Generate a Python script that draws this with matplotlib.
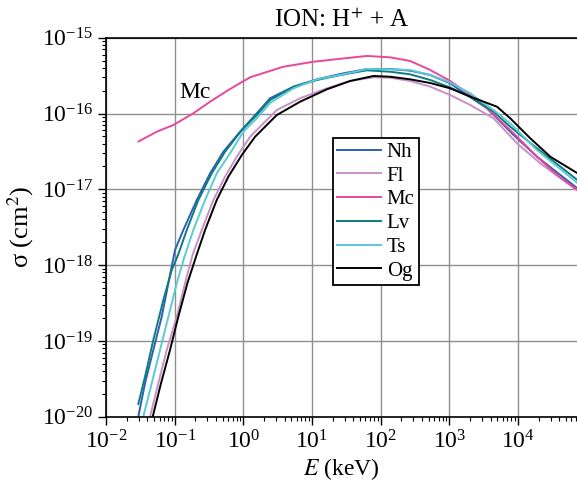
import numpy as np
import matplotlib
matplotlib.use('Agg')
import matplotlib.pyplot as plt
from matplotlib.ticker import LogLocator, NullFormatter

plt.rcParams['font.family'] = ['Liberation Serif', 'DejaVu Serif']
plt.rcParams['mathtext.fontset'] = 'stix'

# values as log10(E / keV) and log10(sigma / cm^2)
lgE_nh = [-1.531, -1.433, -1.312, -1.190, -1.093, -0.996, -0.875, -0.679, -0.485, -0.292, -0.048,
          0.195, 0.389, 0.729, 1.070, 1.458, 1.799, 2.138, 2.430, 2.722, 3.013, 3.257, 3.548,
          3.936, 4.277, 4.87]
lgS_nh = [-20.0, -19.559, -19.120, -18.681, -18.240, -17.801, -17.537, -17.141, -16.789, -16.504,
          -16.240, -15.997, -15.799, -15.646, -15.549, -15.470, -15.413, -15.413, -15.435, -15.492,
          -15.602, -15.756, -15.931, -16.284, -16.570, -16.99]

lgE_fl = [-1.360, -1.239, -1.117, -0.971, -0.850, -0.741, -0.606, -0.437, -0.267, -0.096, 0.098,
          0.195, 0.389, 0.487, 0.827, 1.216, 1.555, 1.895, 2.138, 2.430, 2.722, 3.013, 3.305,
          3.644, 3.985, 4.325, 4.87]
lgS_fl = [-20.0, -19.559, -19.120, -18.681, -18.240, -17.867, -17.537, -17.141, -16.834, -16.570,
          -16.306, -16.218, -16.042, -15.954, -15.799, -15.668, -15.571, -15.522, -15.528, -15.571,
          -15.646, -15.756, -15.888, -16.063, -16.393, -16.657, -17.02]

lgE_mc = [-1.528, -1.262, -1.020, -0.729, -0.485, -0.219, 0.098, 0.583, 1.020, 1.555, 1.799,
          2.138, 2.430, 2.722, 3.013, 3.305, 3.548, 3.936, 4.277, 4.569, 4.87]
lgS_mc = [-16.369, -16.240, -16.152, -15.997, -15.844, -15.690, -15.522, -15.383, -15.317, -15.264,
          -15.241, -15.259, -15.307, -15.426, -15.571, -15.756, -15.931, -16.261, -16.570, -16.811,
          -17.01]

lgE_lv = [-1.531, -1.433, -1.312, -1.166, -1.044, -0.952, -0.825, -0.656, -0.461, -0.267, -0.023,
          0.195, 0.389, 0.729, 1.070, 1.458, 1.799, 2.138, 2.430, 2.722, 3.013, 3.305, 3.644,
          3.887, 4.277, 4.87]
lgS_lv = [-19.833, -19.472, -18.988, -18.460, -18.065, -17.867, -17.537, -17.141, -16.789, -16.504,
          -16.218, -16.020, -15.822, -15.650, -15.558, -15.485, -15.430, -15.449, -15.483, -15.558,
          -15.657, -15.778, -15.976, -16.174, -16.459, -16.88]

lgE_ts = [-1.458, -1.335, -1.214, -1.093, -0.971, -0.864, -0.729, -0.558, -0.388, -0.194, 0.0,
          0.195, 0.389, 0.729, 1.070, 1.458, 1.799, 2.138, 2.430, 2.722, 3.013, 3.305, 3.644,
          3.887, 4.277, 4.87]
lgS_ts = [-20.0, -19.559, -19.120, -18.681, -18.240, -17.906, -17.537, -17.141, -16.789, -16.525,
          -16.240, -16.063, -15.861, -15.668, -15.549, -15.483, -15.413, -15.417, -15.426, -15.492,
          -15.591, -15.734, -15.954, -16.129, -16.482, -16.92]

lgE_og = [-1.321, -1.200, -1.069, -0.948, -0.816, -0.682, -0.558, -0.388, -0.219, -0.023, 0.171,
          0.389, 0.487, 0.827, 1.216, 1.555, 1.895, 2.138, 2.430, 2.722, 3.013, 3.305, 3.694,
          3.887, 4.179, 4.471, 4.87]
lgS_og = [-20.0, -19.559, -19.120, -18.681, -18.240, -17.867, -17.537, -17.141, -16.834, -16.548,
          -16.306, -16.108, -16.020, -15.844, -15.681, -15.571, -15.505, -15.515, -15.549, -15.598,
          -15.668, -15.778, -15.910, -16.063, -16.327, -16.570, -16.79]

labels = ['Nh', 'Fl', 'Mc', 'Lv', 'Ts', 'Og']
colors = ['#2d5fb4', '#c88fc8', '#e8479a', '#0c7c7c', '#5cc8d8', '#000000']
series = [(lgE_nh, lgS_nh), (lgE_fl, lgS_fl), (lgE_mc, lgS_mc),
          (lgE_lv, lgS_lv), (lgE_ts, lgS_ts), (lgE_og, lgS_og)]

fig = plt.figure(figsize=(5.77, 4.96), dpi=100)
ax = fig.add_axes([106.1 / 577, 79.3 / 496, 470.9 / 577, 379 / 496])

for (lx, ly), lab, c in zip(series, labels, colors):
    ax.plot(10 ** np.array(lx), 10 ** np.array(ly), color=c, lw=1.4, label=lab)

ax.set_xscale('log')
ax.set_yscale('log')
ax.set_xlim(1e-2, 10 ** 4.86)
ax.set_ylim(1e-20, 1e-15)

ax.xaxis.set_major_locator(LogLocator(base=10, numticks=20))
ax.xaxis.set_minor_locator(LogLocator(base=10, subs=np.arange(2, 10), numticks=20))
ax.xaxis.set_minor_formatter(NullFormatter())
ax.yaxis.set_minor_locator(LogLocator(base=10, subs=np.arange(2, 10), numticks=20))
ax.yaxis.set_minor_formatter(NullFormatter())

ax.tick_params(which='major', direction='out', length=6, width=1, labelsize=17)
ax.tick_params(which='minor', direction='out', length=3, width=0.8)
ax.grid(True, which='major', color='#8f8f8f', lw=1)
ax.spines['right'].set_visible(False)
for sp in ['top', 'left', 'bottom']:
    ax.spines[sp].set_linewidth(1.2)

ax.set_title('ION: H$^{+}$ + A', fontsize=18, pad=8)
ax.set_xlabel('$E$ (keV)', fontsize=17, labelpad=2)
ax.set_ylabel('σ (cm$^{2}$)', fontsize=19, labelpad=4)

ax.text(0.115, 1.6e-16, 'Mc', fontsize=17, va='baseline', ha='left')

leg = ax.legend(loc='upper left', bbox_to_anchor=(0.481, 0.735), fontsize=15,
                frameon=True, fancybox=False, framealpha=1, edgecolor='black',
                handlelength=2.1, handletextpad=0.3, labelspacing=0.2,
                borderpad=0.2, borderaxespad=0)
leg.get_frame().set_linewidth(1.3)

fig.savefig('out.png', dpi=100)
